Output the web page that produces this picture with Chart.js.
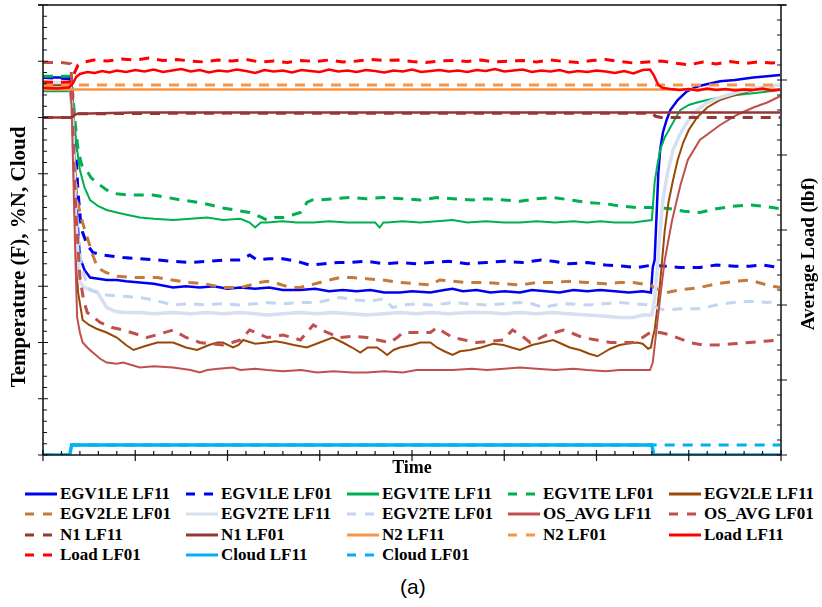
<!DOCTYPE html>
<html>
<head>
<meta charset="utf-8">
<script src="https://cdn.jsdelivr.net/npm/chart.js@4.4.1/dist/chart.umd.min.js"></script>
<style>
  body { margin: 0; background: #fff; }
  #wrap { position: relative; width: 822px; height: 607px; }
  #chart { position: absolute; left: 0; top: 0; }
  #legend {
    position: absolute; left: 25px; top: 484px;
    display: grid; grid-template-columns: repeat(5, 161px); grid-auto-rows: 20.3px;
    font: bold 17px "Liberation Serif", "Times New Roman", serif; color: #000;
  }
  .item { display: flex; align-items: center; white-space: nowrap; }
  .item svg { width: 32px; height: 10px; margin-right: 3px; flex: none; }
  #caption { position: absolute; left: 400px; top: 575px; font: 21px "Liberation Sans", Arial, sans-serif; }
</style>
</head>
<body>
<div id="wrap">
  <canvas id="chart" width="822" height="478"></canvas>
  <div id="legend"></div>
  <div id="caption">(a)</div>
</div>
<script>
// time on x, temperatures / %N / cloud on left axis, load on right axis
const egv1leLF11 = [[0,302],[28,302],[31,298],[33,270],[35,220],[38,180],[40,158],[45,148],[51,142],[60,141],[69,140],[80,140],[90,139],[105,138],[120,137],[141,134],[155,135],[170,134],[185,135],[200,133],[214,134],[230,133],[245,134],[260,132],[279,132],[295,133],[310,131],[325,132],[340,131],[355,132],[370,130],[387,130],[400,131],[420,130],[435,132],[444,133],[455,131],[470,132],[485,130],[500,131],[517,130],[530,132],[545,131],[560,130],[575,132],[590,131],[604,132],[620,131],[635,130],[650,131],[659,130],[661,150],[663,156],[665,190],[667,225],[669,244],[672,258],[676,268],[680,276],[688,284],[698,291],[710,295],[722,297],[734,299],[750,300],[770,302],[785,303],[799,304]];
const egv1leLF01 = [[0,302],[29,301],[32,290],[35,250],[38,210],[41,185],[43,178],[48,168],[54,162],[65,160],[87,158],[105,157],[124,156],[140,155],[159,154],[180,155],[200,156],[214,156],[224,160],[232,156],[245,157],[260,157],[275,155],[289,152],[305,153],[320,154],[333,154],[350,155],[370,153],[387,154],[405,153],[420,154],[440,155],[460,153],[481,154],[500,155],[520,154],[540,156],[553,155],[570,153],[590,154],[610,152],[630,151],[644,150],[661,152],[675,151],[690,150],[712,150],[730,152],[750,151],[766,151],[780,152],[799,150]];
const egv1teLF11 = [[0,291],[29,291],[32,285],[34,265],[37,244],[40,228],[45,214],[51,204],[60,199],[69,196],[80,194],[92,192],[105,190],[120,189],[141,188],[160,189],[178,190],[195,188],[214,189],[224,186],[230,182],[236,186],[243,186],[260,187],[275,186],[293,186],[310,187],[330,186],[351,186],[360,186],[365,182],[369,186],[373,186],[390,187],[409,186],[427,187],[444,188],[460,186],[480,187],[500,186],[517,186],[535,187],[555,186],[575,187],[590,186],[604,187],[620,186],[640,186],[650,187],[660,188],[661,198],[663,218],[666,232],[669,244],[674,254],[680,262],[686,270],[691,276],[700,280],[709,282],[720,284],[734,286],[752,288],[777,290],[799,292]];
const egv1teLF01 = [[0,303],[29,303],[32,290],[35,265],[38,244],[42,232],[47,228],[52,222],[58,218],[69,212],[80,209],[92,208],[108,208],[119,208],[135,206],[149,204],[160,203],[170,202],[182,200],[192,198],[208,196],[224,194],[234,191],[243,188],[252,190],[260,190],[270,192],[279,194],[283,198],[286,202],[292,204],[297,204],[315,205],[333,206],[350,205],[369,206],[390,205],[409,204],[427,206],[444,205],[465,204],[481,205],[500,204],[517,203],[535,205],[553,206],[572,204],[590,202],[610,201],[627,199],[644,198],[665,198],[680,197],[695,195],[712,194],[730,197],[748,199],[766,200],[782,199],[799,197]];
const egv2leLF11 = [[0,296],[29,296],[31,290],[33,250],[35,180],[38,130],[43,108],[50,104],[58,101],[69,98],[80,94],[90,88],[98,84],[110,87],[124,90],[141,90],[155,86],[167,84],[180,88],[189,90],[195,90],[206,86],[212,88],[217,92],[230,89],[243,90],[252,91],[260,90],[272,88],[286,86],[300,90],[314,94],[325,90],[335,86],[344,82],[352,86],[362,86],[368,83],[373,80],[380,84],[387,86],[400,88],[409,90],[420,90],[427,86],[435,83],[444,80],[452,83],[463,84],[475,86],[488,89],[499,88],[508,86],[517,84],[530,88],[542,90],[553,92],[562,89],[571,86],[582,84],[592,81],[601,79],[608,82],[615,85],[625,88],[633,89],[644,90],[650,89],[656,85],[659,86],[661,94],[663,100],[666,118],[669,138],[674,180],[678,202],[683,220],[688,236],[694,250],[700,260],[709,270],[720,278],[734,284],[750,288],[770,292],[785,294],[799,296]];
const egv2leLF01 = [[0,296],[29,296],[32,280],[34,240],[37,204],[42,188],[48,174],[54,160],[59,150],[68,146],[80,143],[100,142],[124,142],[140,140],[159,138],[175,137],[195,134],[206,134],[214,134],[225,136],[234,138],[243,139],[255,137],[268,134],[279,134],[290,136],[305,139],[322,142],[335,142],[351,141],[368,140],[387,138],[405,137],[420,136],[430,140],[445,139],[460,138],[481,138],[500,137],[517,136],[535,138],[553,138],[570,139],[590,138],[610,137],[625,138],[640,138],[658,136],[668,132],[676,130],[690,132],[712,134],[730,137],[750,139],[766,140],[785,136],[799,134]];
const egv2teLF11 = [[0,298],[29,298],[32,270],[35,200],[38,160],[40,138],[45,134],[52,132],[59,130],[64,124],[69,118],[78,115],[87,114],[105,114],[120,113],[141,114],[160,113],[178,114],[195,113],[214,114],[230,113],[243,112],[260,113],[279,114],[297,113],[314,114],[333,113],[351,112],[369,113],[387,114],[405,113],[420,114],[440,113],[460,114],[481,114],[500,113],[517,114],[535,113],[553,114],[570,113],[590,112],[610,111],[625,110],[640,110],[650,112],[660,112],[663,125],[666,150],[669,180],[672,204],[677,226],[683,244],[690,256],[698,266],[708,275],[720,282],[734,286],[752,290],[775,294],[799,296]];
const egv2teLF01 = [[0,298],[29,298],[32,270],[35,220],[38,175],[42,150],[46,140],[51,132],[60,130],[69,128],[85,127],[105,126],[120,124],[141,120],[160,121],[178,120],[195,121],[214,120],[230,121],[243,122],[260,121],[279,122],[297,122],[310,124],[322,126],[340,124],[355,123],[369,125],[375,121],[379,118],[390,120],[405,121],[420,120],[435,121],[444,122],[460,121],[481,120],[500,121],[517,122],[530,121],[542,118],[555,120],[570,121],[590,120],[608,121],[625,122],[640,121],[658,120],[668,117],[676,116],[690,117],[712,117],[730,120],[748,122],[766,123],[785,122],[799,123]];
const osAvgLF11 = [[0,294],[29,294],[31,280],[33,220],[35,160],[37,110],[40,98],[43,90],[48,86],[54,82],[62,77],[69,74],[80,73],[87,74],[96,72],[105,70],[120,71],[141,70],[160,68],[170,66],[178,68],[190,69],[206,70],[214,68],[230,69],[243,68],[260,67],[280,68],[297,66],[315,67],[335,66],[351,66],[370,67],[390,66],[405,68],[420,68],[444,68],[465,69],[481,68],[500,69],[517,70],[535,69],[555,68],[575,69],[590,68],[610,67],[625,68],[640,68],[658,68],[661,74],[665,100],[670,132],[674,156],[682,188],[691,216],[699,236],[712,252],[734,264],[752,272],[770,278],[785,282],[799,287]];
const osAvgLF01 = [[0,314],[20,314],[30,313],[32,290],[33,244],[36,190],[40,142],[44,124],[48,114],[55,110],[62,106],[75,102],[87,100],[100,97],[113,94],[127,97],[141,100],[155,94],[170,90],[182,89],[195,88],[205,90],[214,92],[224,100],[234,97],[243,94],[252,95],[260,96],[270,94],[279,92],[286,98],[293,104],[300,101],[308,98],[315,96],[322,94],[336,95],[351,94],[363,92],[376,90],[384,94],[390,98],[405,98],[420,98],[427,102],[435,98],[444,94],[457,92],[470,90],[485,91],[499,92],[509,100],[518,96],[528,90],[537,93],[546,96],[555,98],[564,100],[575,97],[585,94],[600,92],[615,90],[628,90],[640,90],[650,94],[658,98],[669,98],[680,96],[701,90],[715,88],[731,88],[748,89],[766,90],[782,91],[799,92]];
const n1LF11 = [[0,270],[30,270],[37,273],[200,273.5],[400,273.5],[660,273.5],[664,271],[670,270],[799,270]];
const n1LF01 = [[0,270],[30,270],[37,273],[100,274],[400,274],[799,274]];
const n2LF11 = [[0,292.5],[799,292.5]];
const n2LF01 = [[0,296],[799,296]];
const loadLF11 = [[0,734],[15,733],[28,735],[32,742],[36,756],[40,762],[48,766],[56,764],[64,768],[72,765],[80,769],[90,766],[100,770],[110,767],[120,771],[130,766],[140,769],[150,772],[160,767],[170,770],[180,765],[190,769],[200,767],[210,771],[220,768],[230,764],[240,770],[250,767],[260,769],[270,765],[280,770],[290,768],[300,766],[310,771],[320,767],[330,769],[340,766],[350,770],[360,768],[370,765],[380,769],[390,767],[400,771],[410,766],[420,768],[430,770],[440,767],[450,769],[460,766],[470,770],[480,768],[490,772],[500,767],[510,769],[520,771],[530,766],[540,769],[550,767],[560,770],[570,765],[580,768],[590,766],[600,769],[610,767],[620,764],[630,768],[640,763],[650,770],[658,771],[662,760],[667,740],[672,734],[680,732],[690,730],[700,732],[710,729],[720,733],[730,730],[740,732],[750,729],[760,731],[770,730],[780,733],[790,729],[799,731]];
const loadLF01 = [[0,746],[15,745],[29,746],[33,760],[38,780],[45,786],[55,790],[70,788],[85,792],[100,790],[115,794],[130,789],[145,791],[160,788],[175,786],[190,790],[205,788],[220,791],[235,786],[250,788],[265,785],[280,789],[295,787],[310,790],[325,786],[340,788],[355,791],[370,789],[385,790],[400,787],[415,785],[430,788],[445,789],[460,787],[475,790],[490,786],[505,788],[520,789],[535,786],[550,790],[565,787],[580,785],[595,789],[610,791],[625,787],[640,784],[655,786],[670,788],[685,784],[700,780],[715,786],[730,782],[745,787],[760,783],[775,786],[790,784],[799,785]];
const cloudLF11 = [[0,0],[29,0],[31,8],[660,8],[662,0],[799,0]];
const cloudLF01 = [[0,0],[29,0],[31,8],[799,8]];

const seriesLabels = ["EGV1LE LF11", "EGV1LE LF01", "EGV1TE LF11", "EGV1TE LF01", "EGV2LE LF11",
  "EGV2LE LF01", "EGV2TE LF11", "EGV2TE LF01", "OS_AVG LF11", "OS_AVG LF01",
  "N1 LF11", "N1 LF01", "N2 LF11", "N2 LF01", "Load LF11",
  "Load LF01", "Cloud LF11", "Cloud LF01"];
const seriesData = [egv1leLF11, egv1leLF01, egv1teLF11, egv1teLF01, egv2leLF11,
  egv2leLF01, egv2teLF11, egv2teLF01, osAvgLF11, osAvgLF01,
  n1LF11, n1LF01, n2LF11, n2LF01, loadLF11,
  loadLF01, cloudLF11, cloudLF01];

// styles: colour, dashed, width, axis
const styles = [
  ["#0000f0", false, 2.5, "y"], ["#0000f0", true, 3, "y"],
  ["#00b050", false, 2, "y"], ["#00b050", true, 3, "y"],
  ["#984807", false, 2, "y"], ["#c57a3a", true, 3, "y"],
  ["#d6e0f0", false, 3.5, "y"], ["#c2d6f0", true, 3, "y"],
  ["#c0504d", false, 2, "y"], ["#c0504d", true, 3, "y"],
  ["#953735", true, 3, "y"], ["#953735", false, 2.5, "y"],
  ["#f79646", false, 2.5, "y"], ["#f79646", true, 3, "y"],
  ["#ff0000", false, 2.5, "y2"], ["#ff0000", true, 3, "y2"],
  ["#00b0f0", false, 3.5, "y"], ["#00b0f0", true, 3, "y"]
];
const DASH = [10, 8];

const datasets = seriesData.map((d, i) => ({
  label: seriesLabels[i],
  data: d,
  borderColor: styles[i][0],
  borderWidth: styles[i][2],
  borderDash: styles[i][1] ? DASH : [],
  yAxisID: styles[i][3],
  pointRadius: 0,
  tension: 0,
  fill: false,
  order: seriesData.length - i
}));

// frame, inward/outward tick marks and axis titles
const axisFrame = {
  id: "axisFrame",
  afterDraw(chart) {
    const { ctx, chartArea: a, scales } = chart;
    ctx.save();
    ctx.strokeStyle = "#111";
    ctx.lineWidth = 1.5;
    ctx.beginPath();
    ctx.moveTo(a.left - 5, a.top); ctx.lineTo(a.right + 5, a.top);
    ctx.moveTo(a.left, a.top); ctx.lineTo(a.left, a.bottom);
    ctx.moveTo(a.right, a.top); ctx.lineTo(a.right, a.bottom);
    ctx.moveTo(a.left, a.bottom); ctx.lineTo(a.right, a.bottom);
    ctx.stroke();

    ctx.lineWidth = 1.2;
    ctx.beginPath();
    for (let i = 0; i <= 40; i++) {
      const px = scales.x.getPixelForValue(i * 20);
      if (i % 5 === 0) { ctx.moveTo(px, a.bottom - 5); ctx.lineTo(px, a.bottom + 6); }
      else { ctx.moveTo(px, a.bottom - 4); ctx.lineTo(px, a.bottom); }
    }
    for (let i = 0; i <= 40; i++) {
      const py = scales.y.getPixelForValue(i * 9);
      if (i % 5 === 0) { ctx.moveTo(a.left - 5, py); ctx.lineTo(a.left + 5, py); }
      else { ctx.moveTo(a.left, py); ctx.lineTo(a.left + 4, py); }
    }
    for (let i = 0; i <= 30; i++) {
      const py = scales.y2.getPixelForValue(i * 30);
      if (i % 5 === 0) { ctx.moveTo(a.right - 4, py); ctx.lineTo(a.right + 6, py); }
      else { ctx.moveTo(a.right - 4, py); ctx.lineTo(a.right, py); }
    }
    ctx.stroke();

    ctx.fillStyle = "#000";
    ctx.textAlign = "center";
    ctx.textBaseline = "middle";
    ctx.font = 'bold 18px "Liberation Serif", "Times New Roman", serif';
    ctx.fillText("Time", (a.left + a.right) / 2, 468);

    ctx.save();
    ctx.translate(20, 257);
    ctx.rotate(-Math.PI / 2);
    ctx.font = 'bold 21px "Liberation Serif", "Times New Roman", serif';
    ctx.fillText("Temperature (F), %N, Cloud", 0, 0);
    ctx.restore();

    ctx.save();
    ctx.translate(809, 254);
    ctx.rotate(-Math.PI / 2);
    ctx.font = 'bold 19px "Liberation Serif", "Times New Roman", serif';
    ctx.fillText("Average Load (lbf)", 0, 0);
    ctx.restore();
    ctx.restore();
  }
};

const chart = new Chart(document.getElementById("chart"), {
  type: "line",
  data: { datasets: datasets },
  options: {
    responsive: false,
    animation: false,
    devicePixelRatio: 1,
    layout: { padding: { top: 5, left: 0, right: 0, bottom: 0 } },
    plugins: { legend: { display: false }, tooltip: { enabled: false } },
    scales: {
      x: {
        type: "linear", min: 0, max: 800,
        ticks: { display: false }, grid: { display: false }, border: { display: false },
        afterFit: (s) => { s.height = 23; }
      },
      y: {
        position: "left", min: 0, max: 360,
        ticks: { display: false }, grid: { display: false }, border: { display: false },
        afterFit: (s) => { s.width = 43; }
      },
      y2: {
        position: "right", min: 0, max: 900,
        ticks: { display: false }, grid: { display: false }, border: { display: false },
        afterFit: (s) => { s.width = 41; }
      }
    }
  },
  plugins: [axisFrame]
});

// legend laid out in 5 columns like the original
const legendBox = document.getElementById("legend");
chart.data.datasets.forEach((ds) => {
  const item = document.createElement("div");
  item.className = "item";
  const dash = ds.borderDash.length ? ' stroke-dasharray="9 9"' : "";
  item.innerHTML = '<svg viewBox="0 0 32 10"><line x1="0" y1="5" x2="32" y2="5" stroke="' +
    ds.borderColor + '" stroke-width="3"' + dash + '/></svg><span>' + ds.label + '</span>';
  legendBox.appendChild(item);
});
</script>
</body>
</html>
